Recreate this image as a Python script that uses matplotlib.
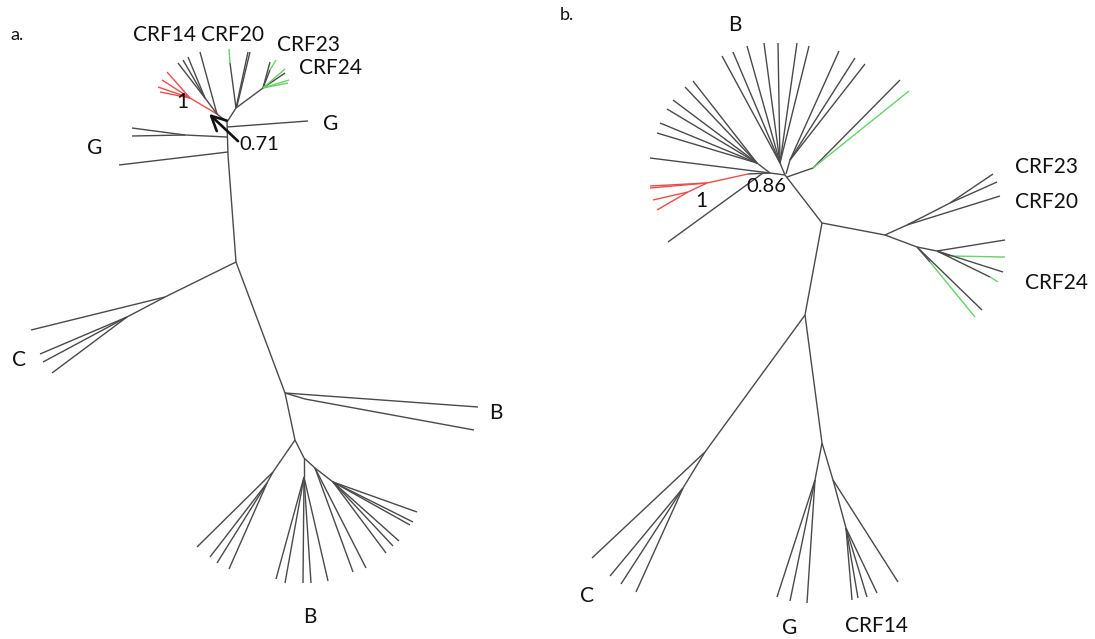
import matplotlib.pyplot as plt

# branches: (x0, y0, x1, y1, colour key), image pixel units
tree_a = [
    # spine and G
    (227, 122, 228, 155, 'k'), (228, 155, 236, 262, 'k'),
    (227, 127, 308, 121, 'k'),
    (227, 137, 185, 135, 'k'), (185, 135, 132, 128, 'k'), (185, 135, 132, 136, 'k'),
    (228, 152, 119, 165, 'k'),
    # crown, left part
    (227, 122, 217, 114, 'k'),
    (217, 114, 190, 98, 'r'), (190, 98, 167, 72, 'r'), (190, 98, 162, 80, 'r'),
    (190, 98, 158, 87, 'r'), (190, 98, 160, 92, 'r'),
    (217, 114, 205, 98, 'k'), (205, 98, 178, 63, 'k'), (205, 98, 183, 60, 'k'),
    (205, 98, 188, 57, 'k'), (217, 114, 200, 52, 'k'),
    # crown, right part
    (227, 122, 236, 108, 'k'), (236, 108, 230, 63, 'k'), (230, 63, 229, 49, 'g'),
    (236, 108, 248, 52, 'k'), (237, 106, 250, 52, 'k'),
    (236, 108, 263, 88, 'k'),
    (263, 88, 270, 62, 'k'), (263, 88, 270, 70, 'k'), (270, 70, 276, 60, 'g'),
    (263, 88, 285, 73, 'k'), (263, 88, 285, 69, 'g'),
    (263, 88, 289, 80, 'g'), (263, 88, 288, 83, 'g'),
    # C
    (236, 262, 165, 297, 'k'), (165, 297, 31, 330, 'k'), (165, 297, 127, 317, 'k'),
    (127, 317, 40, 354, 'k'), (127, 317, 43, 362, 'k'), (127, 317, 52, 373, 'k'),
    # B (right)
    (236, 262, 285, 393, 'k'), (285, 393, 478, 407, 'k'),
    (285, 393, 305, 399, 'k'), (305, 399, 474, 430, 'k'),
    # B (bottom)
    (285, 393, 295, 440, 'k'),
    (295, 440, 273, 472, 'k'), (273, 472, 197, 547, 'k'), (273, 472, 267, 483, 'k'),
    (267, 483, 210, 557, 'k'), (267, 483, 217, 563, 'k'), (267, 483, 229, 569, 'k'),
    (295, 440, 304, 458, 'k'), (304, 458, 304, 477, 'k'),
    (304, 477, 276, 579, 'k'), (304, 477, 285, 583, 'k'), (304, 477, 303, 583, 'k'),
    (304, 477, 311, 583, 'k'), (304, 477, 328, 581, 'k'),
    (304, 458, 315, 468, 'k'), (315, 468, 353, 572, 'k'), (315, 468, 366, 568, 'k'),
    (315, 468, 333, 482, 'k'),
    (333, 482, 386, 553, 'k'), (333, 482, 393, 546, 'k'), (333, 482, 399, 541, 'k'),
    (333, 482, 410, 525, 'k'), (333, 482, 413, 522, 'k'), (333, 482, 417, 512, 'k'),
]

tree_b = [
    # hub and upper B fan
    (785, 175, 770, 173, 'k'), (785, 175, 780, 163, 'k'),
    (780, 163, 722, 56, 'k'), (780, 163, 733, 52, 'k'), (780, 163, 747, 46, 'k'),
    (780, 163, 764, 43, 'k'), (780, 163, 778, 43, 'k'), (780, 163, 797, 43, 'k'),
    (780, 163, 809, 46, 'k'),
    (770, 173, 757, 163, 'k'),
    (757, 163, 657, 133, 'k'), (757, 163, 660, 123, 'k'), (757, 163, 667, 109, 'k'),
    (757, 163, 673, 100, 'k'), (757, 163, 685, 87, 'k'), (757, 163, 693, 81, 'k'),
    (770, 173, 650, 158, 'k'), (763, 173, 668, 242, 'k'),
    (770, 173, 748, 174, 'k'), (748, 174, 707, 183, 'r'),
    (707, 183, 650, 188, 'r'), (707, 183, 650, 186, 'r'), (707, 183, 688, 192, 'r'),
    (688, 192, 653, 200, 'r'), (688, 192, 657, 210, 'r'),
    (786, 174, 790, 160, 'k'),
    (790, 160, 839, 51, 'k'), (790, 160, 855, 58, 'k'), (790, 160, 865, 64, 'k'),
    (787, 177, 813, 168, 'k'), (813, 168, 900, 80, 'k'), (813, 168, 909, 91, 'g'),
    # CRF23 / CRF20 / CRF24
    (785, 175, 822, 223, 'k'), (822, 223, 885, 235, 'k'),
    (885, 235, 907, 225, 'k'), (907, 225, 950, 203, 'k'),
    (950, 203, 993, 174, 'k'), (950, 203, 997, 182, 'k'), (907, 225, 1000, 196, 'k'),
    (885, 235, 917, 247, 'k'), (917, 247, 937, 251, 'k'),
    (937, 251, 1005, 240, 'k'), (937, 251, 950, 256, 'k'), (950, 256, 1005, 257, 'g'),
    (937, 251, 1003, 272, 'k'), (937, 251, 990, 277, 'k'), (990, 277, 998, 282, 'g'),
    (917, 247, 982, 310, 'k'), (917, 247, 930, 262, 'k'), (930, 262, 975, 317, 'g'),
    # C
    (822, 223, 805, 315, 'k'), (805, 315, 705, 452, 'k'),
    (705, 452, 592, 558, 'k'), (705, 452, 683, 488, 'k'),
    (683, 488, 610, 576, 'k'), (683, 488, 621, 584, 'k'), (683, 488, 636, 592, 'k'),
    # G / CRF14
    (805, 315, 822, 443, 'k'),
    (822, 443, 815, 480, 'k'), (815, 480, 777, 597, 'k'), (815, 480, 790, 601, 'k'),
    (815, 480, 807, 603, 'k'),
    (822, 443, 833, 480, 'k'), (833, 480, 898, 582, 'k'), (833, 480, 846, 528, 'k'),
    (846, 528, 852, 600, 'k'), (846, 528, 858, 598, 'k'), (846, 528, 867, 597, 'k'),
    (846, 528, 877, 593, 'k'),
]

labels = [
    ('a.', 17, 35, 13), ('CRF14', 165, 35, 15), ('CRF20', 232, 35, 15),
    ('CRF23', 308, 45, 15), ('CRF24', 330, 68, 15), ('1', 182, 102, 15),
    ('G', 331, 124, 15), ('G', 95, 148, 15), ('0.71', 259, 145, 14.5),
    ('C', 19, 360, 15), ('B', 496, 413, 15), ('B', 310, 617, 15),
    ('b.', 567, 15, 13), ('B', 735, 25, 15), ('0.86', 766, 187, 14.5),
    ('1', 701, 201, 15), ('CRF23', 1047, 167, 15), ('CRF20', 1047, 202, 15),
    ('CRF24', 1056, 283, 15), ('C', 587, 596, 15), ('G', 790, 628, 15),
    ('CRF14', 877, 626, 15),
]

colours = {'k': '#4a4a4a', 'r': '#ee4c4c', 'g': '#66d466'}

fig = plt.figure(figsize=(10.95, 6.39), dpi=100)
ax = fig.add_axes([0, 0, 1, 1])
ax.set_xlim(0, 1095)
ax.set_ylim(639, 0)
ax.axis('off')

for x0, y0, x1, y1, c in tree_a + tree_b:
    ax.plot([x0, x1], [y0, y1], color=colours[c], lw=1.0, solid_capstyle='butt')

for txt, x, y, size in labels:
    ax.text(x, y, txt, ha='center', va='center', fontsize=size,
            family='Lato', color='#111111')

# arrow pointing at the 0.71 node
ax.annotate('', xy=(207, 112), xytext=(240, 143),
            arrowprops=dict(arrowstyle='->', lw=1.9, color='#111111',
                            mutation_scale=26))

fig.savefig('out.png', dpi=100)
